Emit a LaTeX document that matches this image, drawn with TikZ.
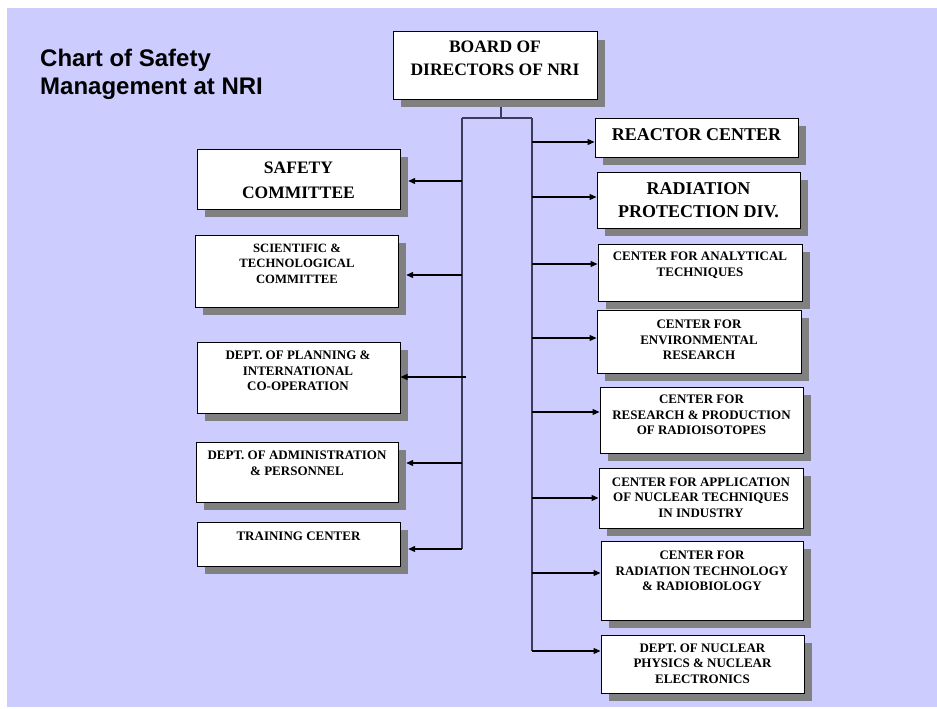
\documentclass[tikz,border=0pt]{standalone}
\usepackage{fontspec}
\setmainfont{Liberation Serif}
\newfontfamily\titlefont{Liberation Sans}
\usetikzlibrary{arrows.meta}
\definecolor{lav}{RGB}{204,204,255}
\definecolor{shade}{RGB}{128,128,128}
\definecolor{trunk}{RGB}{60,60,90}
\tikzset{
  box/.style={draw=black, fill=white, line width=1pt, inner sep=0pt},
  shadowbox/.style={fill=shade, draw=none, inner sep=0pt},
  big/.style={font=\bfseries\fontsize{18}{23}\selectfont, align=center, inner sep=0pt},
  small/.style={font=\bfseries\fontsize{13}{15.6}\selectfont, align=center, inner sep=0pt},
  trunkline/.style={draw=trunk, line width=1.5pt},
  arr/.style={draw=black, line width=1.2pt, -{Triangle[length=7pt,width=6pt]}},
}
\newcommand\obox[5]{%
  \node[shadowbox, minimum width=#4pt, minimum height=#5pt] (#1s) at (#2+8,#3+8) {};
  \node[box, minimum width=#4pt, minimum height=#5pt] (#1) at (#2,#3) {};}
\begin{document}
\begin{tikzpicture}[x=1pt,y=-1pt]
\useasboundingbox (0,0) rectangle (937,709);
\fill[white] (0,0) rectangle (937,709);
\fill[lav] (7,8) rectangle (937,707);

\node[anchor=west, align=left, inner sep=0pt, font=\titlefont\bfseries\fontsize{24}{28}\selectfont] (title) at (40,74) {Chart of Safety\\Management at NRI};

% boxes
\obox{board}{495}{65.5}{204}{67}
\obox{safety}{298.5}{179}{203}{60}
\obox{sci}{296.5}{271}{203}{72}
\obox{plan}{298.5}{377.5}{203}{71}
\obox{admin}{297}{472}{202}{60}
\obox{train}{298.5}{544}{203}{44}
\obox{reactor}{696.5}{137.5}{203}{39}
\obox{radprot}{698.5}{200}{203}{56}
\obox{anal}{700}{272.5}{204}{57}
\obox{env}{699}{341.5}{204}{63}
\obox{iso}{701.5}{420}{203}{66}
\obox{ind}{701}{498}{204}{60}
\obox{radtech}{702}{580.5}{202}{79}
\obox{nucl}{702.5}{664}{203}{58}

% texts
\node[big, font=\bfseries\fontsize{17.5}{23}\selectfont] (tboard) at (495,58.5) {BOARD OF\\DIRECTORS OF NRI};
\node[big, font=\bfseries\fontsize{17.5}{25}\selectfont] (tsafety) at (298.5,180) {SAFETY\\COMMITTEE};
\node[small, font=\bfseries\fontsize{12.7}{15.5}\selectfont] (tsci) at (297,263.5) {SCIENTIFIC \&\\TECHNOLOGICAL\\COMMITTEE};
\node[small] (tplan) at (298,371) {DEPT. OF PLANNING \&\\INTERNATIONAL\\CO-OPERATION};
\node[small] (tadmin) at (297,463.5) {DEPT. OF ADMINISTRATION\\\& PERSONNEL};
\node[small] (ttrain) at (298.5,536) {TRAINING CENTER};
\node[big] (treactor) at (696.5,135) {REACTOR CENTER};
\node[big] (tradprot) at (698.5,200.5) {RADIATION\\PROTECTION DIV.};
\node[small] (tanal) at (700,265.5) {CENTER FOR ANALYTICAL\\TECHNIQUES};
\node[small] (tenv) at (699,340) {CENTER FOR\\ENVIRONMENTAL\\RESEARCH};
\node[small] (tiso) at (701.5,415) {CENTER FOR\\RESEARCH \& PRODUCTION\\OF RADIOISOTOPES};
\node[small] (tind) at (701,497.5) {CENTER FOR APPLICATION\\OF NUCLEAR TECHNIQUES\\IN INDUSTRY};
\node[small] (tradtech) at (702,571) {CENTER FOR\\RADIATION TECHNOLOGY\\\& RADIOBIOLOGY};
\node[small] (tnucl) at (702.5,663.5) {DEPT. OF NUCLEAR\\PHYSICS \& NUCLEAR\\ELECTRONICS};

% trunk
\coordinate (j) at (501,118);
\coordinate (jl) at (462,118);
\coordinate (jr) at (532,118);
\coordinate (l1) at (462,181);
\coordinate (l2) at (462,275);
\coordinate (l3) at (466,377);
\coordinate (l4) at (462,463);
\coordinate (l5) at (462,549);
\coordinate (r1) at (532,142);
\coordinate (r2) at (532,197);
\coordinate (r3) at (532,264);
\coordinate (r4) at (532,338);
\coordinate (r5) at (532,412);
\coordinate (r6) at (532,498);
\coordinate (r7) at (532,573);
\coordinate (r8) at (532,651);
\draw[trunkline] (boards.south -| j) -- (j);
\draw[trunkline] (jl) -- (jr);
\draw[trunkline] (jl) -- (l5);
\draw[trunkline] (jr) -- (r8);

\draw[arr] (l1) -- (l1 -| safetys.east);
\draw[arr] (l2) -- (l2 -| scis.east);
\draw[arr] (l3) -- (l3 -| plan.east);
\draw[arr] (l4) -- (l4 -| admins.east);
\draw[arr] (l5) -- (l5 -| trains.east);
\draw[arr] (r1) -- (r1 -| reactor.west);
\draw[arr] (r2) -- (r2 -| radprot.west);
\draw[arr] (r3) -- (r3 -| anal.west);
\draw[arr] (r4) -- (r4 -| env.west);
\draw[arr] (r5) -- (r5 -| iso.west);
\draw[arr] (r6) -- (r6 -| ind.west);
\draw[arr] (r7) -- (r7 -| radtech.west);
\draw[arr] (r8) -- (r8 -| nucl.west);
\end{tikzpicture}
\end{document}
